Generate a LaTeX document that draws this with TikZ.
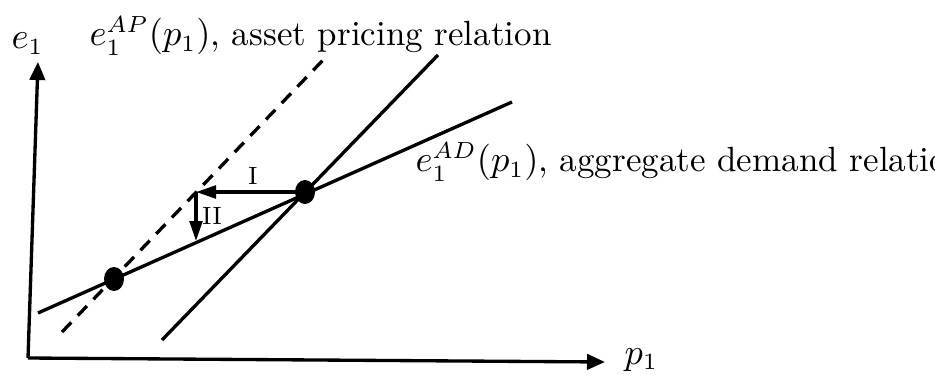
\documentclass[tikz,border=0pt]{standalone}
\usetikzlibrary{arrows.meta,shapes.geometric}
\begin{document}
\begin{tikzpicture}[x=0.3pt,y=-0.3pt,line width=1pt,
  dot/.style={ellipse,fill=black,minimum width=6pt,minimum height=7.2pt,inner sep=0pt},
  axisarr/.style={-{Triangle[length=5.4pt,width=4.6pt]}},
  smallarr/.style={-{Triangle[length=6pt,width=3.8pt]}},
  lbl/.style={inner sep=0pt,anchor=base west,font=\fontsize{10.5}{12}\selectfont},
  steplbl/.style={inner sep=0pt,font=\fontsize{7.5}{9}\selectfont}]
\clip (0,0) rectangle (935,374);
% coordinates
\coordinate (O) at (28,358);
\coordinate (Ytip) at (38,62);
\coordinate (Xtip) at (605,362);
\coordinate (dS) at (62,332);
\coordinate (dE) at (325,58);
\coordinate (sS) at (162,340);
\coordinate (sE) at (438,55);
\coordinate (fS) at (38,313);
\coordinate (fE) at (512,102);
\coordinate (C) at (196,192);
\coordinate (D) at (196,241);
% axes
\draw[axisarr] (O) -- (Ytip);
\draw[axisarr] (O) -- (Xtip);
% relations
\draw[dashed,dash pattern=on 4pt off 2.8pt] (dS) -- (dE);
\draw (sS) -- (sE);
\draw (fS) -- (fE);
% dots
\node[dot] (A) at (305,192) {};
\node[dot] (B) at (114,279) {};
% adjustment arrows
\draw[smallarr] (A.center) -- (C);
\draw[smallarr] (C) -- (D);
\node[steplbl] (LI) at (253,176) {I};
\node[steplbl] (LII) at (212,216) {II};
% labels
\node[lbl] (Le) at (10,49) {$e_1$};
\node[lbl] (Lp) at (623,364) {$p_1$};
\node[lbl] (LAP) at (88,46) {$e_1^{AP}(p_1)$, asset pricing relation};
\node[lbl] (LAD) at (414,172) {$e_1^{AD}(p_1)$, aggregate demand relation};
\end{tikzpicture}
\end{document}
